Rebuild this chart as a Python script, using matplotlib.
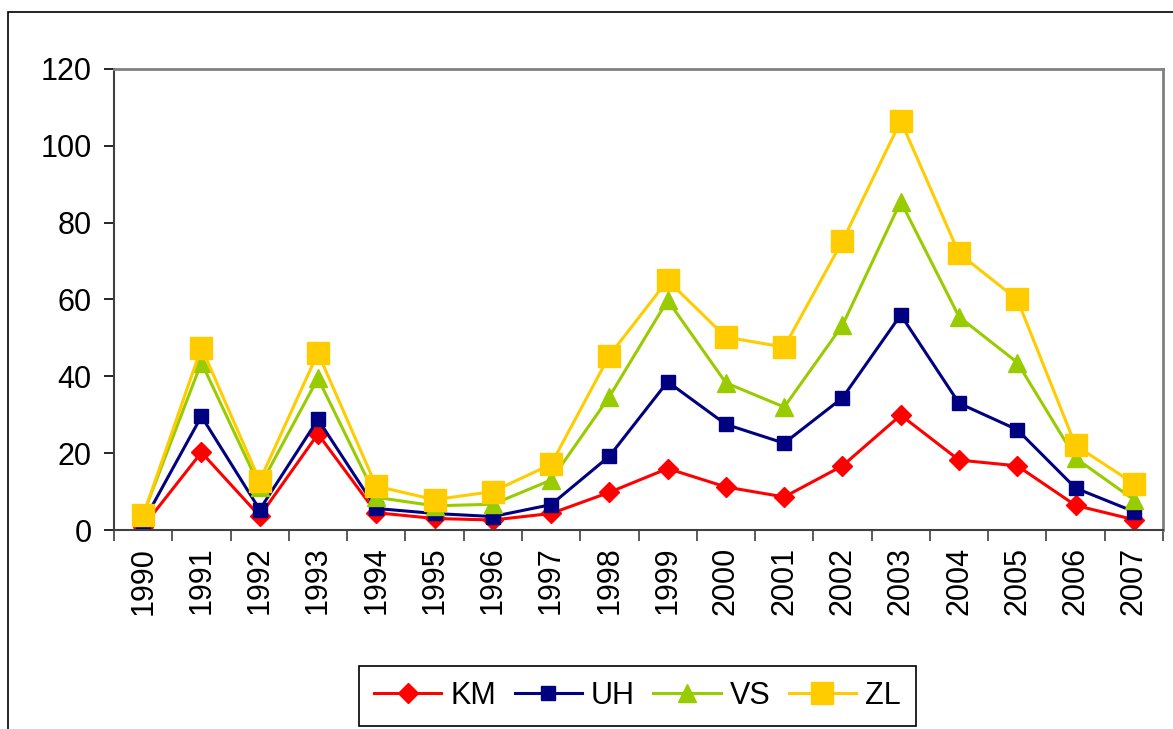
import matplotlib.pyplot as plt
from matplotlib.patches import Rectangle

plt.rcParams['font.family'] = ['Liberation Sans', 'DejaVu Sans']

years = [str(y) for y in range(1990, 2008)]
km = [0.9, 20.2, 3.6, 25.0, 4.5, 3.0, 2.6, 4.3, 9.8, 16.0, 11.2, 8.6, 16.7, 29.9, 18.2, 16.7, 6.4, 2.7]
uh = [2.0, 29.6, 5.3, 28.8, 5.6, 4.3, 3.5, 6.6, 19.2, 38.6, 27.5, 22.6, 34.4, 56.0, 33.0, 26.1, 10.9, 4.8]
vs = [4.0, 43.6, 11.3, 39.5, 8.5, 6.3, 6.7, 13.0, 34.7, 59.8, 38.3, 32.0, 53.3, 85.5, 55.5, 43.6, 18.7, 7.9]
zl = [3.8, 47.5, 12.8, 46.1, 11.4, 7.9, 10.0, 17.1, 45.4, 65.0, 50.2, 47.6, 75.2, 106.5, 72.0, 60.0, 22.0, 12.1]

fig = plt.figure(figsize=(11.73, 7.29), dpi=100)
ax = fig.add_axes([114/1173, 1 - 530/729, 1049/1173, 461/729])

x = range(len(years))
ax.plot(x, km, color='#FF0000', marker='D', ms=10, lw=2.2, label='KM')
ax.plot(x, uh, color='#000080', marker='s', ms=10, lw=2.2, label='UH')
ax.plot(x, vs, color='#99CC00', marker='^', ms=13, lw=2.2, label='VS')
ax.plot(x, zl, color='#FFCC00', marker='s', ms=16.5, lw=2.2, label='ZL')

ax.set_xlim(-0.5, len(years) - 0.5)
ax.set_ylim(0, 120)
ax.set_yticks(range(0, 121, 20))
ax.set_xticks(list(x))
ax.set_xticklabels(years, rotation=90)
ax.set_xticks([i - 0.5 for i in range(len(years) + 1)], minor=True)
ax.tick_params(axis='x', which='major', length=0, pad=12, labelsize=22)
ax.tick_params(axis='x', which='minor', length=8, width=1.2, direction='out', color='#404040')
ax.tick_params(axis='y', length=7, width=1.2, direction='out', labelsize=22, pad=9)

for s in ['top', 'right']:
    ax.spines[s].set_color('#808080')
    ax.spines[s].set_linewidth(2)
for s in ['left', 'bottom']:
    ax.spines[s].set_color('#404040')
    ax.spines[s].set_linewidth(1.5)

fig.patches.append(Rectangle((8/1173, -0.1), 1.2, 1 - 12/729 + 0.1,
                             transform=fig.transFigure, fill=False,
                             edgecolor='black', lw=1.2))

leg = fig.legend(loc='center', bbox_to_anchor=(637.5/1173, 1 - 696/729),
                 bbox_transform=fig.transFigure, ncol=4, fontsize=22,
                 fancybox=False, edgecolor='black', framealpha=1,
                 handlelength=2.2, columnspacing=0.6, handletextpad=0.3,
                 borderpad=0.5)
leg.get_frame().set_linewidth(1.2)

fig.savefig('out.png', dpi=100)
